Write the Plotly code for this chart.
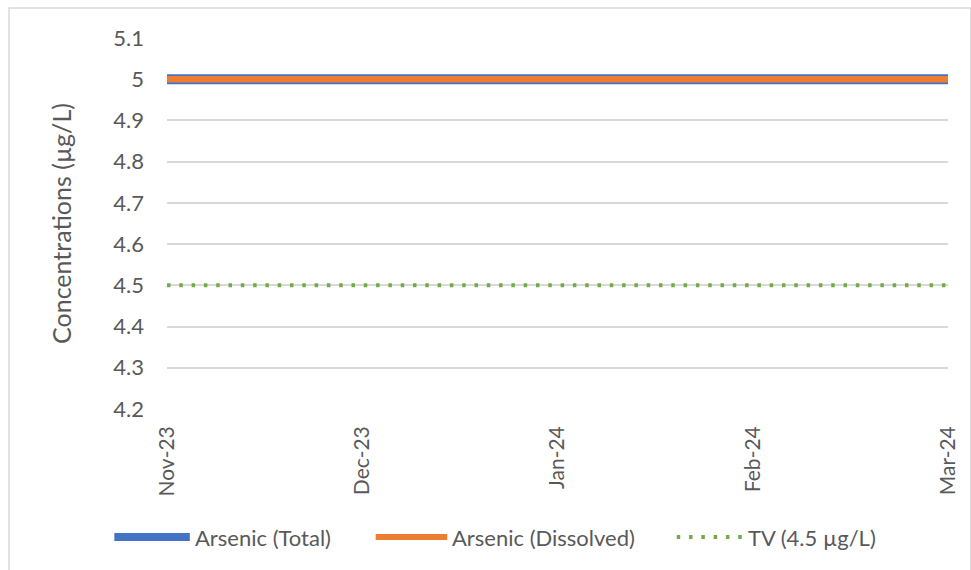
import plotly.graph_objects as go

# Sampling months and measured concentrations (µg/L)
months = ["Nov-23", "Dec-23", "Jan-24", "Feb-24", "Mar-24"]
arsenic_total = [5.0, 5.0, 5.0, 5.0, 5.0]
arsenic_dissolved = [5.0, 5.0, 5.0, 5.0, 5.0]
tv_limit = [4.5, 4.5, 4.5, 4.5, 4.5]
y_ticks = [4.2, 4.3, 4.4, 4.5, 4.6, 4.7, 4.8, 4.9, 5.0, 5.1]
y_tick_text = ["4.2", "4.3", "4.4", "4.5", "4.6", "4.7", "4.8", "4.9", "5", "5.1"]

series_names = ["Arsenic (Total)", "Arsenic (Dissolved)", "TV (4.5 µg/L)"]
series_values = [arsenic_total, arsenic_dissolved, tv_limit]
series_colors = ["#4472C4", "#ED7D31", "#70AD47"]
series_widths = [10, 6.5, 4]
series_dash = ["solid", "solid", "3.5px,8.8px"]

W, H = 971, 570
M_L, M_R, M_T, M_B = 167, 18, 38, 161
plot_w = W - M_L - M_R
plot_h = H - M_T - M_B

FONT = "Lato"
FS = 22
GREY = "#595959"


def px_x(px):
    return (px - M_L) / plot_w


def px_y(py):
    return (H - M_B - py) / plot_h


fig = go.Figure()
for name, vals, color, width, dash in zip(series_names, series_values,
                                          series_colors, series_widths, series_dash):
    fig.add_trace(go.Scatter(
        x=months, y=vals, mode="lines", name=name, showlegend=False,
        line=dict(color=color, width=width, dash=dash),
    ))

# Light outer frame around the chart area
fig.add_shape(
    type="rect", xref="paper", yref="paper",
    x0=px_x(8), x1=px_x(W + 5), y0=px_y(H + 5), y1=px_y(8),
    line=dict(color="#D9D9D9", width=1.5), fillcolor="rgba(0,0,0,0)", layer="below",
)

# Legend row along the bottom: long key line followed by the series name
legend_y = px_y(537)
key_spans = [(114, 190), (377, 449), (680, 747)]
legend_key_widths = [8, 6, 4]
for (k0, k1), name, color, kw, dash in zip(key_spans, series_names, series_colors,
                                            legend_key_widths, series_dash):
    fig.add_shape(
        type="line", xref="paper", yref="paper",
        x0=px_x(k0), x1=px_x(k1), y0=legend_y, y1=legend_y,
        line=dict(color=color, width=kw, dash=dash),
    )
    fig.add_annotation(
        xref="paper", yref="paper", x=px_x(k1 + 3), y=legend_y,
        xanchor="left", yanchor="middle", showarrow=False,
        text=name, font=dict(family=FONT, size=FS, color=GREY),
    )

fig.update_layout(
    width=W, height=H,
    margin=dict(l=M_L, r=M_R, t=M_T, b=M_B),
    paper_bgcolor="white", plot_bgcolor="white",
    font=dict(family=FONT, size=FS, color=GREY),
    showlegend=False,
)
fig.update_xaxes(
    type="category", range=[0, len(months) - 1],
    showgrid=False, zeroline=False, showline=False,
    tickangle=-90, ticks="", ticklabelstandoff=12,
    tickfont=dict(family=FONT, size=21, color=GREY),
)
fig.update_yaxes(
    range=[4.2, 5.1], tickvals=y_ticks, ticktext=y_tick_text,
    showgrid=True, gridcolor="#D9D9D9", gridwidth=1.5,
    zeroline=False, showline=False, ticks="", ticklabelstandoff=22,
    tickfont=dict(family=FONT, size=FS, color=GREY),
    title=dict(text="Concentrations (µg/L)", font=dict(family=FONT, size=25, color=GREY), standoff=34),
)

fig.write_html("out.html")
